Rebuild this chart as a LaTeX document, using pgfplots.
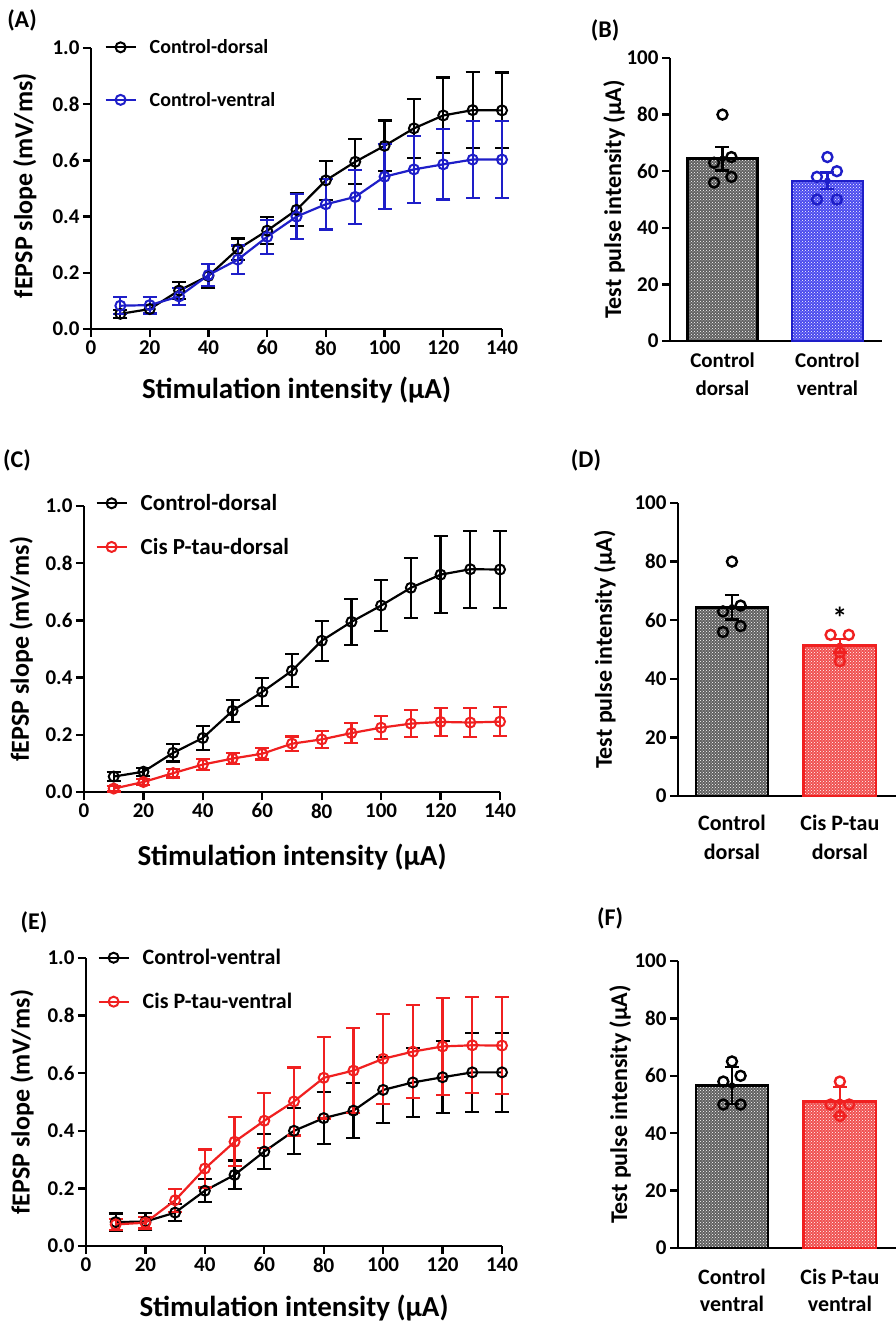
\documentclass[border=0pt]{standalone}
\usepackage{fontspec}
\setmainfont{Carlito}
\usepackage{pgfplots}
\pgfplotsset{compat=1.18}
\usepackage{pgfplotstable}
\usetikzlibrary{patterns}
\definecolor{myblue}{HTML}{1E1EC8}
\definecolor{myred}{HTML}{F02020}
\definecolor{barblue}{HTML}{4A4AEE}
\definecolor{barred}{HTML}{F05050}
\definecolor{bargray}{HTML}{606060}

\pgfplotstableread{
x y e
10 0.054 0.015
20 0.071 0.014
30 0.137 0.030
40 0.189 0.043
50 0.284 0.038
60 0.350 0.048
70 0.424 0.058
80 0.529 0.070
90 0.595 0.080
100 0.652 0.090
110 0.714 0.105
120 0.760 0.135
130 0.779 0.135
140 0.778 0.135
}\ctrldorsal
\pgfplotstableread{
x y e
10 0.083 0.030
20 0.085 0.030
30 0.116 0.030
40 0.192 0.040
50 0.247 0.050
60 0.328 0.060
70 0.400 0.080
80 0.444 0.090
90 0.470 0.095
100 0.542 0.115
110 0.568 0.120
120 0.586 0.125
130 0.603 0.137
140 0.603 0.137
}\ctrlventral
\pgfplotstableread{
x y e
10 0.012 0.010
20 0.035 0.010
30 0.066 0.015
40 0.096 0.020
50 0.117 0.020
60 0.134 0.020
70 0.169 0.025
80 0.184 0.030
90 0.206 0.035
100 0.225 0.040
110 0.239 0.047
120 0.245 0.050
130 0.243 0.050
140 0.246 0.050
}\cisdorsal
\pgfplotstableread{
x y e
10 0.075 0.020
20 0.081 0.020
30 0.159 0.040
40 0.269 0.066
50 0.362 0.085
60 0.435 0.095
70 0.502 0.118
80 0.584 0.141
90 0.609 0.147
100 0.650 0.156
110 0.675 0.162
120 0.693 0.168
130 0.697 0.167
140 0.696 0.168
}\cisventral

\pgfplotsset{
  common/.style={
    scale only axis, clip=false,
    axis lines*=left,
    axis line style={line width=2.6pt,-},
    tick align=outside, major tick length=8pt,
    tick style={line width=2.4pt, black},
    /pgf/number format/assume math mode=true,
    every tick label/.append style={font=\fontsize{21}{25}\selectfont\bfseries},
  },
  linepanel/.style={common,
    xmin=0, xmax=140, ymin=0, ymax=1,
    xtick={0,20,...,140}, ytick={0,0.2,0.4,0.6,0.8,1.0},
    yticklabel style={/pgf/number format/.cd, fixed, fixed zerofill, precision=1},
    xlabel={\bfseries Stimulation intensity (µA)},
    ylabel={\bfseries fEPSP slope (mV/ms)},
    xlabel style={font=\fontsize{29}{32}\selectfont\bfseries},
    ylabel style={font=\fontsize{26}{30}\selectfont\bfseries},
    legend cell align=left,
    legend image code/.code={\draw[mark repeat=2,mark phase=2,##1] plot coordinates {(0pt,0pt) (15pt,0pt) (30pt,0pt)};},
  },
  barpanel/.style={common,
    xmin=-0.5, xmax=1.52, ymin=0, ymax=100,
    ytick={0,20,...,100}, xtick={0,1},
    x tick style={draw=none},
    xticklabel style={align=center, font=\fontsize{21}{28}\selectfont\bfseries},
    ylabel={\bfseries Test pulse intensity (µA)},
    label style={font=\fontsize{24}{28}\selectfont\bfseries},
  },
  ser/.style={#1, line width=2.2pt, mark=o, mark size=5pt,
    mark options={fill=white, line width=2pt, solid},
    error bars/.cd, y dir=both, y explicit,
    error bar style={line width=2.2pt, #1},
    error mark options={rotate=90, line width=2.2pt, mark size=7pt, #1}},
  bar/.style 2 args={ybar, bar width=0.67, bar shift=0pt, draw=#1, line width=2.6pt,
    fill=#2, postaction={pattern=crosshatch dots, pattern color=white}},
  errb/.style={#1, line width=2.4pt, only marks, mark=none, forget plot,
    error bars/.cd, y dir=both, y explicit,
    error bar style={line width=2.4pt, #1},
    error mark options={rotate=90, line width=2.4pt, mark size=7pt, #1}},
  pts/.style={#1, only marks, mark=o, mark size=5pt, line width=2.4pt,
    mark options={fill=white, line width=2.4pt}},
}

\begin{document}
\begin{tikzpicture}[x=1pt,y=1pt]
\useasboundingbox (0,0) rectangle (896,-1326);

% ---------- (A)
\node[font=\fontsize{24}{28}\selectfont\bfseries] at (22,-20) {(A)};
\begin{axis}[linepanel, at={(91pt,-329pt)}, anchor=south west,
  width=411pt, height=281pt,
  xlabel style={at={(axis description cs:0.5,-0.217)}, anchor=center},
  ylabel style={at={(axis description cs:-0.161,0.51)}, anchor=center},
  legend style={at={(axis description cs:0.025,1.045)}, anchor=north west,
    draw=none, fill=none, font=\fontsize{20}{24}\selectfont\bfseries, row sep=33pt,
    /tikz/every odd column/.append style={column sep=11pt}}]
\addplot[ser=black] table[x=x,y=y,y error=e] {\ctrldorsal};
\addlegendentry{Control-dorsal}
\addplot[ser=myblue] table[x=x,y=y,y error=e] {\ctrlventral};
\addlegendentry{Control-ventral}
\end{axis}

% ---------- (B)
\node[font=\fontsize{24}{28}\selectfont\bfseries] at (605,-30) {(B)};
\begin{axis}[barpanel, at={(670pt,-341pt)}, anchor=south west,
  width=212pt, height=283pt,
  xticklabels={Control\\dorsal, Control\\ventral},
  ylabel style={at={(axis description cs:-0.264,0.5)}, anchor=center}]
\addplot[bar={black}{bargray}] coordinates {(0,64.4)};
\addplot[bar={myblue}{barblue}, line width=2pt] coordinates {(1,56.6)};
\addplot[errb=black] coordinates {(0,64.4) +- (0,4.2)};
\addplot[errb=myblue] coordinates {(1,56.6) +- (0,2.9)};
\addplot[pts=black] coordinates {(0,80) (-0.08,63) (0.085,65) (-0.08,56) (0.085,58)};
\addplot[pts=myblue] coordinates {(1,65) (0.9,58) (1.09,60) (0.9,50) (1.09,50)};
\end{axis}

% ---------- (C)
\node[font=\fontsize{24}{28}\selectfont\bfseries] at (17,-460) {(C)};
\begin{axis}[linepanel, at={(84pt,-792pt)}, anchor=south west,
  width=416pt, height=286pt,
  xlabel style={at={(axis description cs:0.5,-0.227)}, anchor=center},
  ylabel style={at={(axis description cs:-0.151,0.5)}, anchor=center},
  legend style={at={(axis description cs:0.02,1.055)}, anchor=north west,
    draw=none, fill=none, font=\fontsize{23}{27}\selectfont\bfseries, row sep=22pt,
    /tikz/every odd column/.append style={column sep=11pt}}]
\addplot[ser=black] table[x=x,y=y,y error=e] {\ctrldorsal};
\addlegendentry{Control-dorsal}
\addplot[ser=myred] table[x=x,y=y,y error=e] {\cisdorsal};
\addlegendentry{Cis P-tau-dorsal}
\end{axis}

% ---------- (D)
\node[font=\fontsize{24}{28}\selectfont\bfseries] at (586,-460) {(D)};
\begin{axis}[barpanel, at={(678pt,-796pt)}, anchor=south west,
  width=218pt, height=293pt,
  xticklabels={Control\\dorsal, Cis P-tau\\dorsal},
  xticklabel style={font=\fontsize{22}{29}\selectfont\bfseries, yshift=-8pt},
  ylabel style={at={(axis description cs:-0.335,0.5)}, anchor=center}]
\addplot[bar={black}{bargray}] coordinates {(0,64.4)};
\addplot[bar={myred}{barred}] coordinates {(1,51.3)};
\addplot[errb=black] coordinates {(0,64.4) +- (0,4.2)};
\addplot[errb=myred] coordinates {(1,51.3) +- (0,2.3)};
\addplot[pts=black] coordinates {(0,80) (-0.083,63) (0.08,65) (-0.083,56) (0.08,58)};
\addplot[pts=myred] coordinates {(0.914,55) (1.083,55) (1,46) (1,49)};
\node[font=\fontsize{30}{30}\selectfont\bfseries] at (axis cs:1,61) {*};
\end{axis}

% ---------- (E)
\node[font=\fontsize{24}{28}\selectfont\bfseries] at (34,-922) {(E)};
\begin{axis}[linepanel, at={(86pt,-1246pt)}, anchor=south west,
  width=416pt, height=288pt,
  xlabel style={at={(axis description cs:0.5,-0.215)}, anchor=center},
  ylabel style={at={(axis description cs:-0.154,0.5)}, anchor=center},
  legend style={at={(axis description cs:0.02,1.045)}, anchor=north west,
    draw=none, fill=none, font=\fontsize{22}{26}\selectfont\bfseries, row sep=23pt,
    /tikz/every odd column/.append style={column sep=11pt}}]
\addplot[ser=black] table[x=x,y=y,y error=e] {\ctrlventral};
\addlegendentry{Control-ventral}
\addplot[ser=myred] table[x=x,y=y,y error=e] {\cisventral};
\addlegendentry{Cis P-tau-ventral}
\end{axis}

% ---------- (F)
\node[font=\fontsize{24}{28}\selectfont\bfseries] at (610,-918) {(F)};
\begin{axis}[barpanel, at={(678pt,-1248pt)}, anchor=south west,
  width=218pt, height=287pt,
  xticklabels={Control\\ventral, Cis P-tau\\ventral},
  xticklabel style={font=\fontsize{22}{27}\selectfont\bfseries, yshift=-10pt},
  ylabel style={at={(axis description cs:-0.266,0.5)}, anchor=center}]
\addplot[bar={black}{bargray}] coordinates {(0,56.6)};
\addplot[bar={myred}{barred}] coordinates {(1,51)};
\addplot[errb=black] coordinates {(0,56.6) +- (0,6.5)};
\addplot[errb=myred] coordinates {(1,51) +- (0,5)};
\addplot[pts=black] coordinates {(0,65) (-0.08,58) (0.08,60) (-0.08,50) (0.08,50)};
\addplot[pts=myred] coordinates {(1,58) (0.914,50) (1.086,50) (1,46)};
\end{axis}
\end{tikzpicture}
\end{document}
